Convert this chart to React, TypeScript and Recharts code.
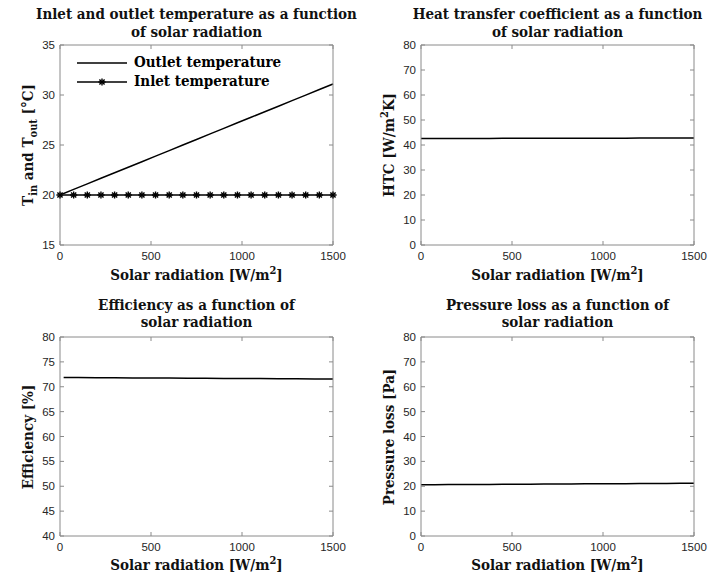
import React from 'react';
import { LineChart, Line, XAxis, YAxis, Legend } from 'recharts';

const radiation = [0, 75, 150, 225, 300, 375, 450, 525, 600, 675, 750, 825, 900, 975, 1050, 1125, 1200, 1275, 1350, 1425, 1500];
const outletTemp = [20.0, 20.56, 21.11, 21.67, 22.22, 22.78, 23.33, 23.89, 24.44, 25.0, 25.55, 26.11, 26.66, 27.22, 27.77, 28.33, 28.88, 29.44, 29.99, 30.55, 31.1];
const inletTemp = [20, 20, 20, 20, 20, 20, 20, 20, 20, 20, 20, 20, 20, 20, 20, 20, 20, 20, 20, 20, 20];
const htc = [42.6, 42.61, 42.62, 42.63, 42.64, 42.65, 42.66, 42.67, 42.68, 42.69, 42.7, 42.71, 42.72, 42.73, 42.74, 42.75, 42.76, 42.77, 42.78, 42.79, 42.8];
const pressureLoss = [20.6, 20.63, 20.66, 20.69, 20.72, 20.75, 20.78, 20.81, 20.84, 20.87, 20.9, 20.93, 20.96, 20.99, 21.02, 21.05, 21.08, 21.11, 21.14, 21.17, 21.2];
const effRadiation = [20, 100, 200, 300, 400, 500, 600, 700, 800, 900, 1000, 1100, 1200, 1300, 1400, 1500];
const efficiency = [71.85, 71.84, 71.82, 71.8, 71.78, 71.76, 71.74, 71.72, 71.7, 71.68, 71.66, 71.64, 71.62, 71.6, 71.58, 71.55];

const xTicks = [0, 500, 1000, 1500];
const tempTicks = [15, 20, 25, 30, 35];
const htcTicks = [0, 10, 20, 30, 40, 50, 60, 70, 80];
const effTicks = [40, 45, 50, 55, 60, 65, 70, 75, 80];
const pressTicks = [0, 10, 20, 30, 40, 50, 60, 70, 80];

const tempData = radiation.map((r, i) => ({ r, outlet: outletTemp[i], inlet: inletTemp[i] }));
const htcData = radiation.map((r, i) => ({ r, v: htc[i] }));
const pressData = radiation.map((r, i) => ({ r, v: pressureLoss[i] }));
const effData = effRadiation.map((r, i) => ({ r, v: efficiency[i] }));

const SERIF = '"DejaVu Serif Condensed", "DejaVu Serif", serif';
const SANS = '"Liberation Sans", Arial, sans-serif';
const BOX = '#8a8a8a';
const TICK_TEXT = '#262626';

const Asterisk = (props: any) => {
  const { cx, cy } = props;
  if (cx == null || cy == null) return null;
  const s = 3.6;
  const d = s * 0.72;
  return (
    <g stroke="#000" strokeWidth={1.4}>
      <line x1={cx - s} y1={cy} x2={cx + s} y2={cy} />
      <line x1={cx} y1={cy - s} x2={cx} y2={cy + s} />
      <line x1={cx - d} y1={cy - d} x2={cx + d} y2={cy + d} />
      <line x1={cx - d} y1={cy + d} x2={cx + d} y2={cy - d} />
    </g>
  );
};

const TempLegend = () => (
  <div style={{ fontFamily: SERIF, fontWeight: 'bold', fontSize: 15, color: '#000', lineHeight: '19px' }}>
    <div style={{ display: 'flex', alignItems: 'center' }}>
      <svg width={50} height={10} style={{ marginRight: 7 }}>
        <line x1={0} y1={5} x2={50} y2={5} stroke="#000" strokeWidth={1.4} />
      </svg>
      <span>Outlet temperature</span>
    </div>
    <div style={{ display: 'flex', alignItems: 'center' }}>
      <svg width={50} height={10} style={{ marginRight: 7 }}>
        <line x1={0} y1={5} x2={50} y2={5} stroke="#000" strokeWidth={1.4} />
        <Asterisk cx={25} cy={5} />
      </svg>
      <span>Inlet temperature</span>
    </div>
  </div>
);

type PanelProps = {
  left: number;
  top: number;
  height: number;
  marginTop: number;
  marginBottom: number;
  title: [string, string];
  yLabel: React.ReactNode;
  yDomain: [number, number];
  yTicks: number[];
  data: any[];
  children: React.ReactNode;
  legend?: boolean;
  titleY: [number, number];
  xLabelY: number;
};

const textBase: React.CSSProperties = {
  position: 'absolute',
  whiteSpace: 'nowrap',
  fontFamily: SERIF,
  fontWeight: 'bold',
  fontSize: 15,
  lineHeight: 1,
  color: '#111',
};

const Panel = (p: PanelProps) => {
  const width = 361;
  const plotLeft = 60;
  const plotRight = 333;
  const plotCenterX = (plotLeft + plotRight) / 2;
  const plotCenterY = (p.marginTop + (p.height - p.marginBottom)) / 2;
  const tickStyle = { fontFamily: SANS, fontSize: 11.5, fill: TICK_TEXT };
  return (
    <div style={{ position: 'absolute', left: p.left, top: p.top, width, height: p.height }}>
      <LineChart
        width={width}
        height={p.height}
        data={p.data}
        margin={{ top: p.marginTop - 1, left: plotLeft - 1, right: width - plotRight - 1, bottom: p.marginBottom - 1 }}
      >
        <XAxis
          dataKey="r"
          type="number"
          domain={[0, 1500]}
          ticks={xTicks}
          tickSize={-4}
          tickMargin={11}
          height={1}
          stroke={BOX}
          tick={tickStyle}
          interval={0}
        />
        <XAxis
          xAxisId="top"
          orientation="top"
          dataKey="r"
          type="number"
          domain={[0, 1500]}
          ticks={xTicks}
          tickSize={-4}
          height={1}
          stroke={BOX}
          tickFormatter={() => ''}
          interval={0}
        />
        <YAxis
          type="number"
          domain={p.yDomain}
          ticks={p.yTicks}
          tickSize={-4}
          tickMargin={9}
          width={1}
          stroke={BOX}
          tick={tickStyle}
          interval={0}
          allowDataOverflow
        />
        <YAxis
          yAxisId="right"
          orientation="right"
          type="number"
          domain={p.yDomain}
          ticks={p.yTicks}
          tickSize={-4}
          width={1}
          stroke={BOX}
          tickFormatter={() => ''}
          interval={0}
          allowDataOverflow
        />
        {p.children}
        {p.legend ? (
          <Legend
            layout="vertical"
            verticalAlign="middle"
            align="center"
            content={() => <TempLegend />}
            wrapperStyle={{ position: 'absolute', top: 53, left: 77, width: 'auto', height: 'auto' }}
          />
        ) : null}
      </LineChart>
      <div style={{ ...textBase, left: plotCenterX, top: p.titleY[0], transform: 'translate(-50%, -50%)' }}>
        {p.title[0]}
      </div>
      <div style={{ ...textBase, left: plotCenterX, top: p.titleY[1], transform: 'translate(-50%, -50%)' }}>
        {p.title[1]}
      </div>
      <div style={{ ...textBase, left: plotCenterX, top: p.xLabelY, transform: 'translate(-50%, -50%)' }}>
        Solar radiation [W/m<sup style={{ fontSize: 11, lineHeight: 0 }}>2</sup>]
      </div>
      <div
        style={{
          ...textBase,
          left: 28,
          top: plotCenterY,
          transform: 'translate(-50%, -50%) rotate(-90deg)',
        }}
      >
        {p.yLabel}
      </div>
    </div>
  );
};

const sub = { fontSize: 11, lineHeight: 0 } as React.CSSProperties;

export default function App() {
  return (
    <div style={{ position: 'absolute', left: 0, top: 0, width: 722, height: 579, background: '#fff' }}>
      <Panel
        left={0}
        top={0}
        height={290}
        marginTop={45}
        marginBottom={45}
        title={['Inlet and outlet temperature as a function', 'of solar radiation']}
        titleY={[14, 31.5]}
        xLabelY={275}
        yLabel={
          <span>
            T<sub style={sub}>in</sub> and T<sub style={sub}>out</sub> [°C]
          </span>
        }
        yDomain={[15, 35]}
        yTicks={tempTicks}
        data={tempData}
        legend
      >
        <Line dataKey="outlet" stroke="#000" strokeWidth={1.5} dot={false} isAnimationActive={false} />
        <Line dataKey="inlet" stroke="#000" strokeWidth={1.5} dot={<Asterisk />} isAnimationActive={false} />
      </Panel>
      <Panel
        left={361}
        top={0}
        height={290}
        marginTop={45}
        marginBottom={45}
        title={['Heat transfer coefficient as a function', 'of solar radiation']}
        titleY={[14, 31.5]}
        xLabelY={275}
        yLabel={
          <span>
            HTC [W/m<sup style={sub}>2</sup>K]
          </span>
        }
        yDomain={[0, 80]}
        yTicks={htcTicks}
        data={htcData}
      >
        <Line dataKey="v" stroke="#000" strokeWidth={1.5} dot={false} isAnimationActive={false} />
      </Panel>
      <Panel
        left={0}
        top={290}
        height={289}
        marginTop={47}
        marginBottom={43}
        title={['Efficiency as a function of', 'solar radiation']}
        titleY={[14.5, 32]}
        xLabelY={275}
        yLabel={<span>Efficiency [%]</span>}
        yDomain={[40, 80]}
        yTicks={effTicks}
        data={effData}
      >
        <Line dataKey="v" stroke="#000" strokeWidth={1.5} dot={false} isAnimationActive={false} />
      </Panel>
      <Panel
        left={361}
        top={290}
        height={289}
        marginTop={47}
        marginBottom={43}
        title={['Pressure loss as a function of', 'solar radiation']}
        titleY={[14.5, 32]}
        xLabelY={275}
        yLabel={<span>Pressure loss [Pa]</span>}
        yDomain={[0, 80]}
        yTicks={pressTicks}
        data={pressData}
      >
        <Line dataKey="v" stroke="#000" strokeWidth={1.5} dot={false} isAnimationActive={false} />
      </Panel>
    </div>
  );
}
